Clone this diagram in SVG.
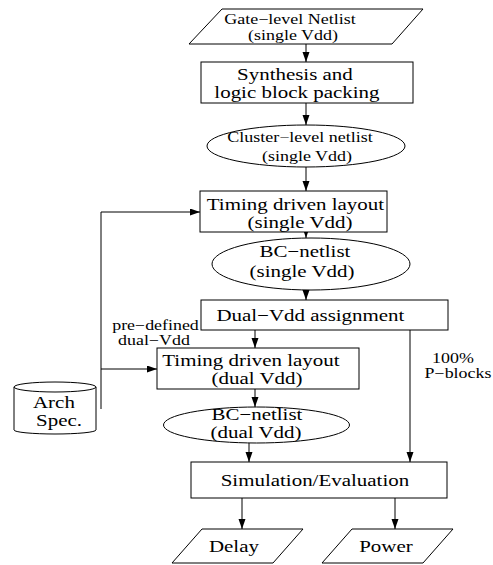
<svg xmlns="http://www.w3.org/2000/svg" width="493" height="565" viewBox="0 0 493 565">
  <style>
    .shape { fill: #fff; stroke: #000; stroke-width: 1; }
    .wire { fill: none; stroke: #000; stroke-width: 1; }
    text {
      font-family: "Liberation Serif", "Times New Roman", serif;
      fill: #000;
      text-anchor: middle;
      /* the face is set a little wide */
      transform-box: fill-box;
      transform-origin: center;
      transform: scaleX(1.2);
    }
    .big { font-size: 16.5px; transform: scaleX(1.27); }
    .mid { font-size: 15px; }
    .top { font-size: 14.5px; transform: scaleX(1.24); }
    .small { font-size: 14px; transform: scaleX(1.28); }
  </style>
  <defs>
    <marker id="arrow" markerWidth="11" markerHeight="8" refX="10" refY="3.5" orient="auto" markerUnits="userSpaceOnUse">
      <path d="M0,0 L10,3.5 L0,7 z" fill="#000"/>
    </marker>
  </defs>

  <g id="connectors">
    <line class="wire" x1="306" y1="44" x2="306" y2="62" marker-end="url(#arrow)"/>
    <line class="wire" x1="306" y1="103" x2="306" y2="125" marker-end="url(#arrow)"/>
    <line class="wire" x1="306" y1="167" x2="306" y2="191" marker-end="url(#arrow)"/>
    <line class="wire" x1="306" y1="232" x2="306" y2="238" marker-end="url(#arrow)"/>
    <line class="wire" x1="306" y1="290" x2="306" y2="300" marker-end="url(#arrow)"/>
    <line class="wire" x1="255" y1="330" x2="255" y2="348" marker-end="url(#arrow)"/>
    <line class="wire" x1="255" y1="389" x2="255" y2="407" marker-end="url(#arrow)"/>
    <line class="wire" x1="249" y1="443" x2="249" y2="462" marker-end="url(#arrow)"/>
    <line class="wire" x1="410" y1="330" x2="410" y2="462" marker-end="url(#arrow)"/>
    <line class="wire" x1="242" y1="498" x2="242" y2="529" marker-end="url(#arrow)"/>
    <line class="wire" x1="395" y1="498" x2="395" y2="529" marker-end="url(#arrow)"/>
    <polyline class="wire" points="101,409 101,212 200,212" marker-end="url(#arrow)"/>
    <line class="wire" x1="101" y1="369" x2="157" y2="369" marker-end="url(#arrow)"/>
    <text class="small" x="155.5" y="330">pre−defined</text>
    <text class="small" x="154" y="345">dual−Vdd</text>
    <text class="small" x="453" y="363">100%</text>
    <text class="small" x="458" y="378">P−blocks</text>
  </g>

  <g id="gate-netlist">
    <polygon class="shape" points="222,9 423,9 392,44 189,44"/>
    <text class="top" x="290" y="24">Gate−level Netlist</text>
    <text class="top" x="293" y="40.5">(single Vdd)</text>
  </g>

  <g id="synthesis">
    <rect class="shape" x="201" y="62" width="212" height="41"/>
    <text class="big" x="295" y="80">Synthesis and</text>
    <text class="big" x="297" y="98">logic block packing</text>
  </g>

  <g id="cluster-netlist">
    <ellipse class="shape" cx="306" cy="146" rx="99" ry="21"/>
    <text class="mid" x="300" y="142">Cluster−level netlist</text>
    <text class="mid" x="307" y="161">(single Vdd)</text>
  </g>

  <g id="layout-single">
    <rect class="shape" x="200" y="191" width="187" height="41"/>
    <text class="big" x="295.5" y="210">Timing driven layout</text>
    <text class="big" x="300" y="228">(single Vdd)</text>
  </g>

  <g id="bc-single">
    <ellipse class="shape" cx="311" cy="264" rx="99" ry="26"/>
    <text class="big" x="305" y="257">BC−netlist</text>
    <text class="big" x="302" y="277">(single Vdd)</text>
  </g>

  <g id="dual-assign">
    <rect class="shape" x="201" y="300" width="247" height="30"/>
    <text class="big" x="310.5" y="321">Dual−Vdd assignment</text>
  </g>

  <g id="layout-dual">
    <rect class="shape" x="157" y="348" width="202" height="41"/>
    <text class="big" x="251" y="366">Timing driven layout</text>
    <text class="big" x="257" y="384">(dual Vdd)</text>
  </g>

  <g id="bc-dual">
    <ellipse class="shape" cx="256.5" cy="425" rx="93" ry="18"/>
    <text class="big" x="257" y="420">BC−netlist</text>
    <text class="big" x="256" y="438">(dual Vdd)</text>
  </g>

  <g id="arch-spec">
    <path class="shape" d="M14,387 L14,430 A41,4 0 0 0 96,430 L96,387"/>
    <ellipse class="shape" cx="55" cy="387" rx="41" ry="5"/>
    <text class="big" x="54" y="408">Arch</text>
    <text class="big" x="59" y="426">Spec.</text>
  </g>

  <g id="simulation">
    <rect class="shape" x="191" y="462" width="256" height="36"/>
    <text class="big" x="315" y="486">Simulation/Evaluation</text>
  </g>

  <g id="delay">
    <polygon class="shape" points="202,529 303,529 273,563 172,563"/>
    <text class="big" x="234" y="552">Delay</text>
  </g>

  <g id="power">
    <polygon class="shape" points="352,529 453,529 423,563 322,563"/>
    <text class="big" x="386" y="552">Power</text>
  </g>
</svg>
